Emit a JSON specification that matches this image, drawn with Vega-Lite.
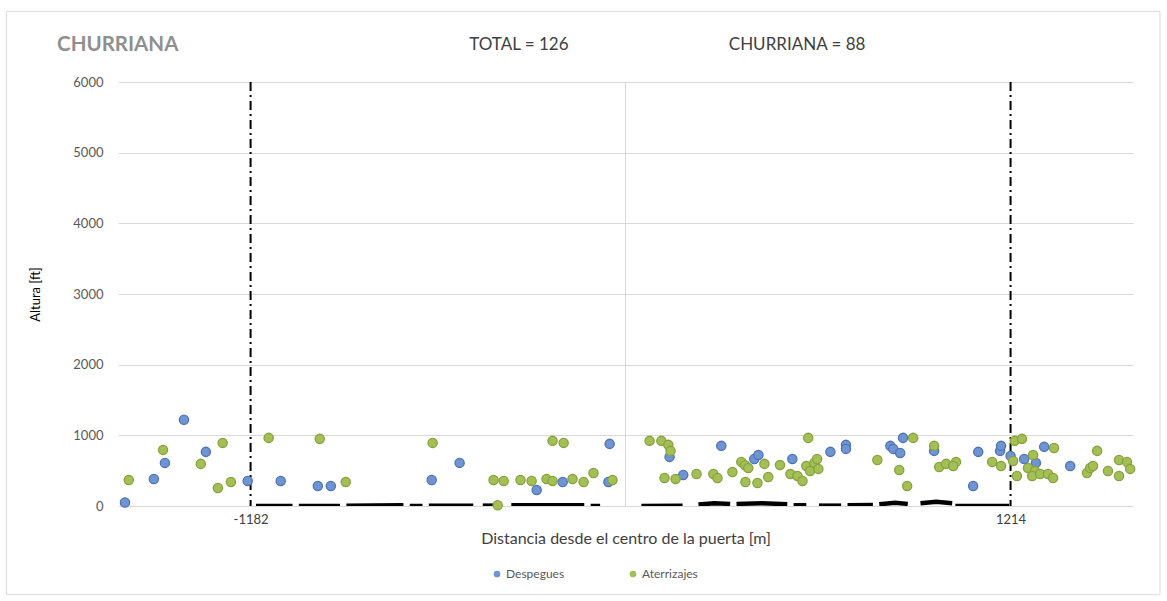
{
  "$schema": "https://vega.github.io/schema/vega-lite/v6.json",
  "width": 1015,
  "height": 424,
  "autosize": {"type": "none"},
  "padding": {"left": 118, "top": 82, "right": 34, "bottom": 95},
  "background": "white",
  "config": {
    "font": "Lato",
    "view": {"stroke": null},
    "axis": {"labelFont": "Lato", "titleFont": "Lato"}
  },
  "datasets": {
    "pts": [
      {"x": -1578, "y": 50, "t": "Despegues"},
      {"x": -1487, "y": 383, "t": "Despegues"},
      {"x": -1452, "y": 610, "t": "Despegues"},
      {"x": -1392, "y": 1220, "t": "Despegues"},
      {"x": -1323, "y": 766, "t": "Despegues"},
      {"x": -1191, "y": 355, "t": "Despegues"},
      {"x": -1087, "y": 355, "t": "Despegues"},
      {"x": -970, "y": 284, "t": "Despegues"},
      {"x": -929, "y": 284, "t": "Despegues"},
      {"x": -611, "y": 369, "t": "Despegues"},
      {"x": -523, "y": 610, "t": "Despegues"},
      {"x": -280, "y": 227, "t": "Despegues"},
      {"x": -198, "y": 340, "t": "Despegues"},
      {"x": -54, "y": 340, "t": "Despegues"},
      {"x": -50, "y": 879, "t": "Despegues"},
      {"x": 139, "y": 695, "t": "Despegues"},
      {"x": 182, "y": 440, "t": "Despegues"},
      {"x": 302, "y": 851, "t": "Despegues"},
      {"x": 406, "y": 666, "t": "Despegues"},
      {"x": 419, "y": 723, "t": "Despegues"},
      {"x": 526, "y": 666, "t": "Despegues"},
      {"x": 646, "y": 766, "t": "Despegues"},
      {"x": 695, "y": 865, "t": "Despegues"},
      {"x": 695, "y": 808, "t": "Despegues"},
      {"x": 835, "y": 851, "t": "Despegues"},
      {"x": 844, "y": 808, "t": "Despegues"},
      {"x": 866, "y": 751, "t": "Despegues"},
      {"x": 875, "y": 964, "t": "Despegues"},
      {"x": 973, "y": 780, "t": "Despegues"},
      {"x": 1112, "y": 766, "t": "Despegues"},
      {"x": 1096, "y": 284, "t": "Despegues"},
      {"x": 1181, "y": 780, "t": "Despegues"},
      {"x": 1184, "y": 851, "t": "Despegues"},
      {"x": 1214, "y": 709, "t": "Despegues"},
      {"x": 1257, "y": 666, "t": "Despegues"},
      {"x": 1294, "y": 610, "t": "Despegues"},
      {"x": 1320, "y": 837, "t": "Despegues"},
      {"x": 1402, "y": 567, "t": "Despegues"},
      {"x": -1566, "y": 369, "t": "Aterrizajes"},
      {"x": -1458, "y": 794, "t": "Aterrizajes"},
      {"x": -1339, "y": 596, "t": "Aterrizajes"},
      {"x": -1270, "y": 893, "t": "Aterrizajes"},
      {"x": -1285, "y": 255, "t": "Aterrizajes"},
      {"x": -1244, "y": 340, "t": "Aterrizajes"},
      {"x": -1125, "y": 964, "t": "Aterrizajes"},
      {"x": -964, "y": 950, "t": "Aterrizajes"},
      {"x": -882, "y": 340, "t": "Aterrizajes"},
      {"x": -608, "y": 893, "t": "Aterrizajes"},
      {"x": -416, "y": 369, "t": "Aterrizajes"},
      {"x": -384, "y": 355, "t": "Aterrizajes"},
      {"x": -331, "y": 369, "t": "Aterrizajes"},
      {"x": -296, "y": 355, "t": "Aterrizajes"},
      {"x": -249, "y": 383, "t": "Aterrizajes"},
      {"x": -230, "y": 355, "t": "Aterrizajes"},
      {"x": -167, "y": 383, "t": "Aterrizajes"},
      {"x": -132, "y": 340, "t": "Aterrizajes"},
      {"x": -101, "y": 468, "t": "Aterrizajes"},
      {"x": -41, "y": 369, "t": "Aterrizajes"},
      {"x": -230, "y": 922, "t": "Aterrizajes"},
      {"x": -195, "y": 893, "t": "Aterrizajes"},
      {"x": -403, "y": 10, "t": "Aterrizajes"},
      {"x": 76, "y": 922, "t": "Aterrizajes"},
      {"x": 113, "y": 922, "t": "Aterrizajes"},
      {"x": 135, "y": 865, "t": "Aterrizajes"},
      {"x": 142, "y": 780, "t": "Aterrizajes"},
      {"x": 123, "y": 397, "t": "Aterrizajes"},
      {"x": 158, "y": 383, "t": "Aterrizajes"},
      {"x": 224, "y": 454, "t": "Aterrizajes"},
      {"x": 277, "y": 454, "t": "Aterrizajes"},
      {"x": 290, "y": 397, "t": "Aterrizajes"},
      {"x": 337, "y": 482, "t": "Aterrizajes"},
      {"x": 365, "y": 624, "t": "Aterrizajes"},
      {"x": 377, "y": 576, "t": "Aterrizajes"},
      {"x": 387, "y": 539, "t": "Aterrizajes"},
      {"x": 378, "y": 340, "t": "Aterrizajes"},
      {"x": 416, "y": 326, "t": "Aterrizajes"},
      {"x": 438, "y": 596, "t": "Aterrizajes"},
      {"x": 450, "y": 411, "t": "Aterrizajes"},
      {"x": 487, "y": 581, "t": "Aterrizajes"},
      {"x": 520, "y": 454, "t": "Aterrizajes"},
      {"x": 542, "y": 425, "t": "Aterrizajes"},
      {"x": 558, "y": 355, "t": "Aterrizajes"},
      {"x": 570, "y": 567, "t": "Aterrizajes"},
      {"x": 576, "y": 964, "t": "Aterrizajes"},
      {"x": 582, "y": 496, "t": "Aterrizajes"},
      {"x": 595, "y": 610, "t": "Aterrizajes"},
      {"x": 604, "y": 666, "t": "Aterrizajes"},
      {"x": 608, "y": 525, "t": "Aterrizajes"},
      {"x": 794, "y": 652, "t": "Aterrizajes"},
      {"x": 907, "y": 964, "t": "Aterrizajes"},
      {"x": 863, "y": 510, "t": "Aterrizajes"},
      {"x": 888, "y": 284, "t": "Aterrizajes"},
      {"x": 973, "y": 851, "t": "Aterrizajes"},
      {"x": 989, "y": 553, "t": "Aterrizajes"},
      {"x": 1011, "y": 596, "t": "Aterrizajes"},
      {"x": 1042, "y": 624, "t": "Aterrizajes"},
      {"x": 1033, "y": 567, "t": "Aterrizajes"},
      {"x": 1156, "y": 624, "t": "Aterrizajes"},
      {"x": 1184, "y": 567, "t": "Aterrizajes"},
      {"x": 1227, "y": 922, "t": "Aterrizajes"},
      {"x": 1250, "y": 950, "t": "Aterrizajes"},
      {"x": 1222, "y": 638, "t": "Aterrizajes"},
      {"x": 1234, "y": 425, "t": "Aterrizajes"},
      {"x": 1285, "y": 723, "t": "Aterrizajes"},
      {"x": 1269, "y": 539, "t": "Aterrizajes"},
      {"x": 1291, "y": 496, "t": "Aterrizajes"},
      {"x": 1282, "y": 425, "t": "Aterrizajes"},
      {"x": 1307, "y": 454, "t": "Aterrizajes"},
      {"x": 1332, "y": 454, "t": "Aterrizajes"},
      {"x": 1348, "y": 397, "t": "Aterrizajes"},
      {"x": 1351, "y": 822, "t": "Aterrizajes"},
      {"x": 1455, "y": 468, "t": "Aterrizajes"},
      {"x": 1465, "y": 539, "t": "Aterrizajes"},
      {"x": 1474, "y": 567, "t": "Aterrizajes"},
      {"x": 1487, "y": 780, "t": "Aterrizajes"},
      {"x": 1521, "y": 496, "t": "Aterrizajes"},
      {"x": 1556, "y": 425, "t": "Aterrizajes"},
      {"x": 1556, "y": 652, "t": "Aterrizajes"},
      {"x": 1581, "y": 624, "t": "Aterrizajes"},
      {"x": 1591, "y": 525, "t": "Aterrizajes"}
    ],
    "ground": [
      {"x": -1165, "y": 0, "s": "a"}, {"x": -1050, "y": 0, "s": "a"},
      {"x": -1030, "y": 0, "s": "b"}, {"x": -900, "y": 0, "s": "b"},
      {"x": -880, "y": 5, "s": "c"}, {"x": -700, "y": 10, "s": "c"},
      {"x": -680, "y": 0, "s": "d"}, {"x": -640, "y": 0, "s": "d"},
      {"x": -620, "y": 5, "s": "e"}, {"x": -480, "y": 5, "s": "e"},
      {"x": -450, "y": 5, "s": "f"}, {"x": -390, "y": 5, "s": "f"},
      {"x": -360, "y": 10, "s": "g"}, {"x": -130, "y": 10, "s": "g"},
      {"x": -110, "y": 0, "s": "h"}, {"x": -80, "y": 0, "s": "h"},
      {"x": 50, "y": 0, "s": "i"}, {"x": 180, "y": 5, "s": "i"},
      {"x": 230, "y": 20, "s": "j"}, {"x": 280, "y": 40, "s": "j"}, {"x": 330, "y": 30, "s": "j"},
      {"x": 350, "y": 30, "s": "k"}, {"x": 430, "y": 40, "s": "k"}, {"x": 510, "y": 25, "s": "k"},
      {"x": 530, "y": 10, "s": "l"}, {"x": 570, "y": 10, "s": "l"},
      {"x": 610, "y": 5, "s": "m"}, {"x": 680, "y": 5, "s": "m"},
      {"x": 700, "y": 10, "s": "n"}, {"x": 780, "y": 15, "s": "n"},
      {"x": 800, "y": 25, "s": "o"}, {"x": 850, "y": 45, "s": "o"}, {"x": 890, "y": 30, "s": "o"},
      {"x": 930, "y": 40, "s": "p"}, {"x": 980, "y": 60, "s": "p"}, {"x": 1030, "y": 40, "s": "p"},
      {"x": 1040, "y": 0, "s": "q"}, {"x": 1210, "y": 0, "s": "q"}
    ],
    "limits": [{"x": -1182}, {"x": 1214}],
    "one": [{}]
  },
  "layer": [
    {
      "data": {"name": "one"},
      "mark": {"type": "rect", "fill": null, "fillOpacity": 0, "stroke": "#d9d9d9", "strokeWidth": 1, "clip": false},
      "encoding": {
        "x": {"datum": -1952, "type": "quantitative"},
        "x2": {"datum": 1685},
        "y": {"datum": 7000, "type": "quantitative"},
        "y2": {"datum": -1255}
      }
    },
    {
      "data": {"name": "one"},
      "mark": {"type": "rule", "color": "#d9d9d9", "strokeWidth": 1},
      "encoding": {"x": {"datum": 0, "type": "quantitative"}}
    },
    {
      "data": {"name": "ground"},
      "mark": {"type": "line", "color": "#000000", "strokeWidth": 4.5, "clip": true},
      "encoding": {
        "x": {"field": "x", "type": "quantitative"},
        "y": {"field": "y", "type": "quantitative"},
        "detail": {"field": "s"}
      }
    },
    {
      "data": {"name": "limits"},
      "mark": {"type": "rule", "color": "#000000", "strokeWidth": 2, "strokeDash": [9, 4, 2, 4]},
      "encoding": {"x": {"field": "x", "type": "quantitative"}}
    },
    {
      "data": {"name": "pts"},
      "mark": {"type": "point", "filled": true, "size": 85, "opacity": 1, "strokeWidth": 1.3, "strokeOpacity": 1},
      "encoding": {
        "x": {
          "field": "x", "type": "quantitative",
          "scale": {"domain": [-1600, 1600], "nice": false, "zero": false},
          "axis": {
            "values": [-1182, 1214],
            "labelExpr": "'' + datum.value",
            "title": "Distancia desde el centro de la puerta [m]",
            "grid": false, "ticks": false, "domain": false,
            "labelFontSize": 13, "labelColor": "#404040", "labelPadding": 7,
            "titleFontSize": 16, "titleColor": "#404040", "titleFontWeight": "normal", "titlePadding": 4
          }
        },
        "y": {
          "field": "y", "type": "quantitative",
          "scale": {"domain": [0, 6000], "nice": false},
          "axis": {
            "values": [0, 1000, 2000, 3000, 4000, 5000, 6000],
            "labelExpr": "'' + datum.value",
            "title": "Altura [ft]",
            "grid": true, "gridColor": "#d9d9d9", "gridWidth": 1,
            "ticks": false, "domain": false,
            "labelFontSize": 13, "labelColor": "#595959", "labelPadding": 15,
            "titleFontSize": 13, "titleColor": "#000000", "titleFontWeight": "normal", "titlePadding": 30
          }
        },
        "color": {
          "field": "t", "type": "nominal",
          "scale": {"domain": ["Despegues", "Aterrizajes"], "range": ["#6f94d2", "#a3bf55"]},
          "legend": {
            "title": null, "orient": "none", "direction": "horizontal",
            "legendX": 373, "legendY": 486,
            "symbolType": "circle", "symbolSize": 45, "symbolStrokeWidth": 0,
            "labelFontSize": 12, "labelColor": "#595959", "labelOffset": 3,
            "columnPadding": 62
          }
        },
        "stroke": {
          "field": "t", "type": "nominal",
          "scale": {"domain": ["Despegues", "Aterrizajes"], "range": ["#4f74b5", "#86a23c"]},
          "legend": null
        }
      }
    },
    {
      "data": {"name": "one"},
      "mark": {"type": "text", "fontSize": 20.5, "fontWeight": "bold", "color": "#8f8f8f", "font": "Lato", "align": "left", "baseline": "middle", "clip": false},
      "encoding": {
        "x": {"datum": -1792, "type": "quantitative"},
        "y": {"datum": 6525, "type": "quantitative"},
        "text": {"value": "CHURRIANA"}
      }
    },
    {
      "data": {"name": "one"},
      "mark": {"type": "text", "fontSize": 17, "color": "#404040", "font": "Lato", "baseline": "middle", "clip": false},
      "encoding": {
        "x": {"datum": -336, "type": "quantitative"},
        "y": {"datum": 6525, "type": "quantitative"},
        "text": {"value": "TOTAL = 126"}
      }
    },
    {
      "data": {"name": "one"},
      "mark": {"type": "text", "fontSize": 17, "color": "#404040", "font": "Lato", "baseline": "middle", "clip": false},
      "encoding": {
        "x": {"datum": 541, "type": "quantitative"},
        "y": {"datum": 6525, "type": "quantitative"},
        "text": {"value": "CHURRIANA = 88"}
      }
    }
  ]
}
